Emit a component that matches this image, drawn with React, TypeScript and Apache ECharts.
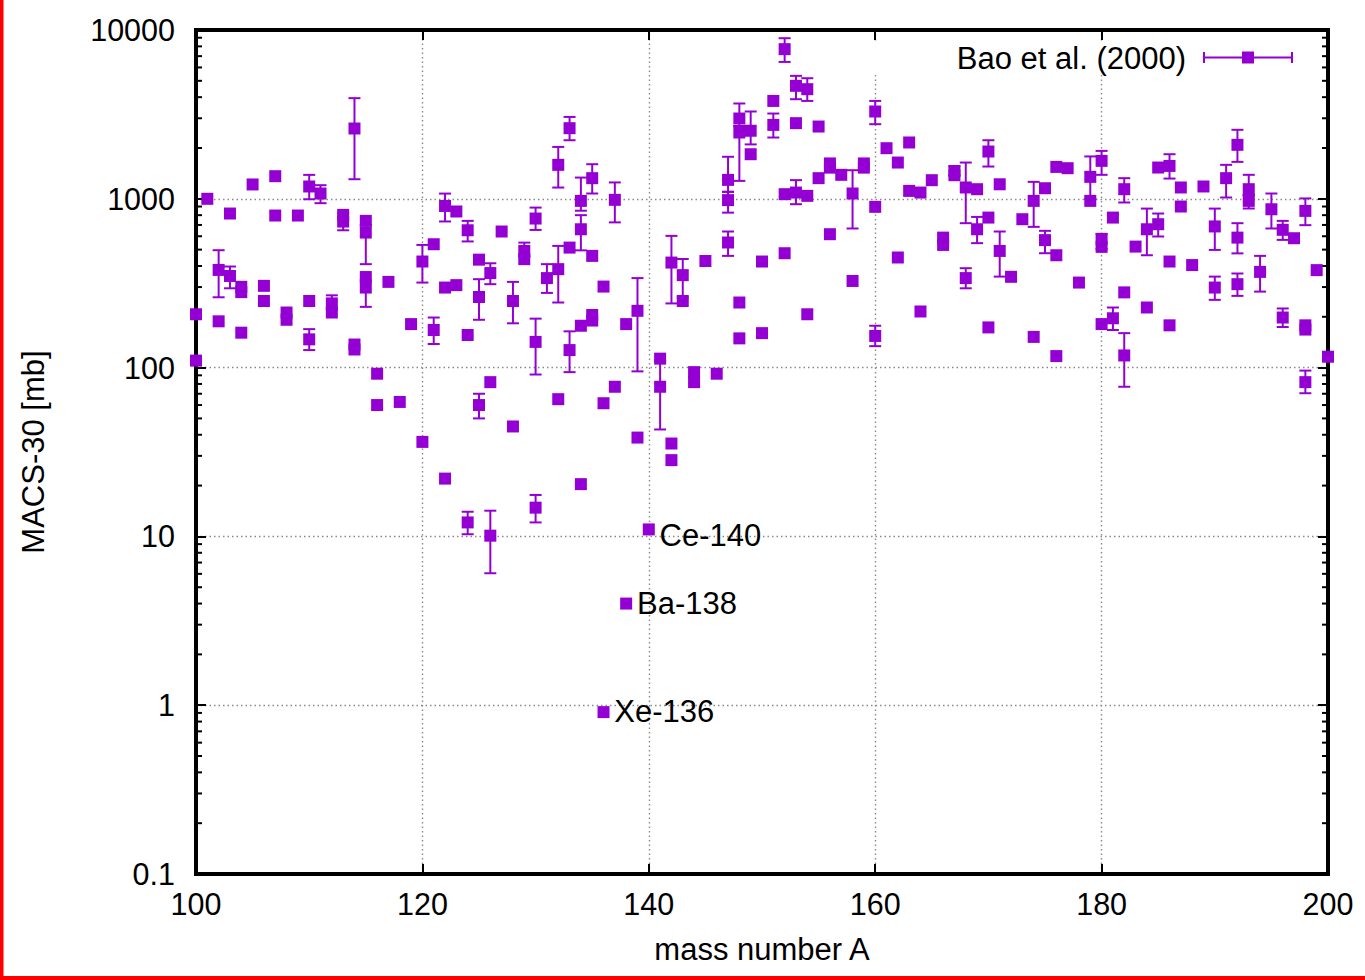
import React, { useEffect, useRef } from "react";
import * as echarts from "echarts";

// ---- data ----
// [mass number A, MACS-30 in mb]
const points: [number, number][] = [
  [100, 207], [100, 110],
  [101, 1000],
  [102, 379], [102, 188],
  [103, 818], [103, 349],
  [104, 301], [104, 280], [104, 161],
  [105, 1216],
  [106, 305], [106, 248],
  [107, 1361], [107, 796],
  [108, 212], [108, 192],
  [109, 796],
  [110, 1183], [110, 248], [110, 147],
  [111, 1075],
  [112, 240], [112, 212],
  [113, 803], [113, 733],
  [114, 2609], [114, 137], [114, 128],
  [115, 740], [115, 631], [115, 344], [115, 298],
  [116, 92], [116, 60],
  [117, 322],
  [118, 62.6],
  [119, 181],
  [120, 425], [120, 36.3],
  [121, 538], [121, 167],
  [122, 907], [122, 298], [122, 22],
  [123, 841], [123, 308],
  [124, 651], [124, 156], [124, 12.1],
  [125, 436], [125, 262], [125, 60],
  [126, 363], [126, 82], [126, 10.1],
  [127, 640],
  [128, 248], [128, 44.8],
  [129, 491], [129, 439],
  [130, 764], [130, 142], [130, 14.8],
  [131, 339],
  [132, 1589], [132, 383], [132, 65],
  [133, 2620], [133, 514], [133, 127],
  [134, 972], [134, 660], [134, 177], [134, 20.4],
  [135, 1325], [135, 459], [135, 205], [135, 190],
  [136, 302], [136, 61.5], [136, 0.91],
  [137, 986], [137, 77],
  [138, 181], [138, 4.0],
  [139, 217], [139, 38.5],
  [140, 11],
  [141, 113], [141, 77],
  [142, 419], [142, 35.5], [142, 28.3],
  [143, 353], [143, 248],
  [144, 94], [144, 82],
  [145, 428],
  [146, 92],
  [147, 1294], [147, 982], [147, 551],
  [148, 2990], [148, 2470], [148, 243], [148, 149],
  [149, 2530], [149, 1837],
  [150, 425], [150, 160],
  [151, 3800], [151, 2740],
  [152, 7700], [152, 1065], [152, 476],
  [153, 4670], [153, 2806], [153, 1089],
  [154, 4460], [154, 1041], [154, 207],
  [155, 2680], [155, 1325],
  [156, 1620], [156, 1530], [156, 617],
  [157, 1387],
  [158, 1075], [158, 326],
  [159, 1620], [159, 1530],
  [160, 3290], [160, 896], [160, 154],
  [161, 1994],
  [162, 1640], [162, 449],
  [163, 2156], [163, 1114],
  [164, 1089], [164, 215],
  [165, 1289],
  [166, 589], [166, 533],
  [167, 1460], [167, 1380],
  [168, 1167], [168, 339],
  [169, 1140], [169, 660],
  [170, 1906], [170, 774], [170, 173],
  [171, 1219], [171, 491],
  [172, 345],
  [173, 757],
  [174, 972], [174, 152],
  [175, 1155], [175, 569],
  [176, 1545], [176, 463], [176, 117],
  [177, 1518],
  [178, 319],
  [179, 1349], [179, 972],
  [180, 1678], [180, 577], [180, 519], [180, 181],
  [181, 774], [181, 196],
  [182, 1140], [182, 279], [182, 118],
  [183, 521],
  [184, 660], [184, 227],
  [185, 1532], [185, 707],
  [186, 1566], [186, 425], [186, 178],
  [187, 1167], [187, 900],
  [188, 405],
  [189, 1183],
  [190, 686], [190, 298],
  [191, 1325],
  [192, 2088], [192, 589], [192, 312],
  [193, 1140], [193, 972],
  [194, 369],
  [195, 867],
  [196, 655], [196, 198],
  [197, 584],
  [198, 848], [198, 178], [198, 168], [198, 82],
  [199, 378],
  [200, 116],
];

// [mass number A, lower end, upper end] of visible error bars
const errorBars: [number, number, number][] = [
  [102, 261, 496], [103, 295, 397], [110, 994, 1386], [110, 127, 169],
  [111, 942, 1204], [112, 220, 268], [113, 651, 820], [114, 1306, 3947],
  [115, 410, 700], [115, 229, 330], [120, 319, 533], [121, 138, 198],
  [122, 734, 1074], [124, 559, 740], [124, 10.3, 14], [125, 192, 334],
  [125, 50, 70], [126, 312, 415], [126, 6.05, 14.2], [128, 183, 322],
  [129, 455, 550], [130, 654, 887], [130, 91, 195], [130, 12.1, 17.6],
  [131, 277, 410], [132, 243, 526], [132, 1166, 2029], [133, 2223, 3055],
  [133, 94, 164], [134, 850, 1336], [134, 495, 800], [135, 1075, 1603],
  [137, 725, 1250], [139, 95, 339], [141, 43, 110], [142, 240, 603],
  [143, 260, 440], [147, 1100, 1774], [147, 828, 1100], [147, 459, 640],
  [148, 2700, 3670], [148, 1277, 2700], [149, 2100, 3290], [151, 2307, 3200],
  [152, 6470, 8940], [153, 3890, 5350], [153, 929, 1290], [154, 3800, 5180],
  [158, 667, 1477], [160, 2767, 3800], [160, 134, 177], [167, 1380, 1560],
  [168, 717, 1640], [168, 295, 388], [169, 546, 781], [170, 1553, 2223],
  [171, 346, 640], [174, 682, 1260], [175, 476, 646], [179, 1000, 1782],
  [180, 1387, 1922], [180, 505, 620], [181, 167, 227], [182, 951, 1325],
  [182, 77, 160], [184, 463, 875], [185, 598, 818], [186, 1318, 1837],
  [190, 498, 875], [190, 252, 346], [191, 1018, 1589], [192, 1655, 2563],
  [192, 475, 717], [192, 266, 361], [193, 1050, 1387], [193, 876, 1050],
  [194, 282, 459], [195, 667, 1075], [196, 571, 740], [196, 174, 224],
  [198, 698, 1005], [198, 70.5, 96],
];

// annotations
const labelNames = ["Ce-140", "Ba-138", "Xe-136"];
const labelA = [141, 139, 137];
const labelMacs = [10, 4.0, 0.91];

// axes
const xMin = 100;
const xMax = 200;
const xInterval = 20;
const yTicks = [0.1, 1, 10, 100, 1000, 10000];
const yTickLabels = ["0.1", "1", "10", "100", "1000", "10000"];
const yMinorMultipliers = [2, 3, 4, 5, 6, 7, 8, 9];
const legendName = "Bao et al. (2000)";

const PURPLE = "#9400d3";
const FONT = "Liberation Sans, Arial, sans-serif";
const TICK_FONT = 30.5;
const TEXT_FONT = 31;

export default function App() {
  const ref = useRef<HTMLDivElement>(null);

  useEffect(() => {
    document.body.style.margin = "0";
    if (!ref.current) return;
    const chart = echarts.init(ref.current, undefined, { renderer: "svg" });

    const minorTickData: [number, number][] = [];
    yTicks.slice(0, -1).forEach((d) =>
      yMinorMultipliers.forEach((m) => minorTickData.push([xMin, m * d]))
    );

    const labelData = labelNames.map((n, i) => [labelA[i], labelMacs[i], n]);

    const yLabelFmt = (v: number) => {
      const i = yTicks.findIndex(
        (t) => Math.abs(Math.log10(t) - Math.log10(v)) < 1e-6
      );
      return i >= 0 ? yTickLabels[i] : "";
    };

    const gridLine = {
      show: true,
      lineStyle: { color: "#8a8a8a", width: 1.4, type: [1.5, 3] as any },
    };

    const option: any = {
      animation: false,
      backgroundColor: "#ffffff",
      grid: { left: 196, right: 37, top: 30, bottom: 106, containLabel: false },
      xAxis: [
        {
          type: "value",
          position: "bottom",
          min: xMin,
          max: xMax,
          interval: xInterval,
          axisLine: { show: false, onZero: false },
          axisTick: { show: true, inside: true, length: 10, lineStyle: { color: "#000", width: 2 } },
          axisLabel: { show: true, margin: 14, fontSize: TICK_FONT, color: "#000", fontFamily: FONT },
          splitLine: gridLine,
          name: "mass number A",
          nameLocation: "middle",
          nameGap: 60,
          nameTextStyle: { fontSize: TEXT_FONT, color: "#000", fontFamily: FONT },
        },
        {
          type: "value",
          position: "top",
          min: xMin,
          max: xMax,
          interval: xInterval,
          axisLine: { show: false, onZero: false },
          axisTick: { show: true, inside: true, length: 10, lineStyle: { color: "#000", width: 2 } },
          axisLabel: { show: false },
          splitLine: { show: false },
        },
      ],
      yAxis: [
        {
          type: "log",
          logBase: 10,
          position: "left",
          min: 0.1,
          max: 10000,
          splitNumber: 5,
          axisLine: { show: false, onZero: false },
          axisTick: { show: true, inside: true, length: 10, lineStyle: { color: "#000", width: 2 } },
          axisLabel: {
            show: true,
            margin: 21,
            fontSize: TICK_FONT,
            color: "#000",
            fontFamily: FONT,
            formatter: yLabelFmt,
          },
          splitLine: gridLine,
          minorTick: { show: false },
          name: "MACS-30 [mb]",
          nameLocation: "middle",
          nameGap: 147,
          nameRotate: 90,
          nameTextStyle: { fontSize: TEXT_FONT, color: "#000", fontFamily: FONT },
        },
        {
          type: "log",
          logBase: 10,
          position: "right",
          min: 0.1,
          max: 10000,
          splitNumber: 5,
          axisLine: { show: false, onZero: false },
          axisTick: { show: true, inside: true, length: 10, lineStyle: { color: "#000", width: 2 } },
          axisLabel: { show: false },
          splitLine: { show: false },
        },
      ],
      graphic: [
        // plot frame
        {
          type: "rect",
          z: 1,
          silent: true,
          shape: { x: 196, y: 30, width: 1132, height: 844 },
          style: { fill: "none", stroke: "#000", lineWidth: 4 },
        },
        // key background
        {
          type: "rect",
          z: 50,
          silent: true,
          shape: { x: 830, y: 42, width: 482, height: 32 },
          style: { fill: "#ffffff" },
        },
        {
          type: "text",
          z: 51,
          x: 1186,
          y: 58,
          style: {
            text: legendName,
            fontSize: TEXT_FONT,
            fontFamily: FONT,
            fill: "#000",
            align: "right",
            verticalAlign: "middle",
          },
        },
        {
          type: "line",
          z: 51,
          shape: { x1: 1204, y1: 57.5, x2: 1292, y2: 57.5 },
          style: { stroke: PURPLE, lineWidth: 2 },
        },
        {
          type: "line",
          z: 51,
          shape: { x1: 1204, y1: 52, x2: 1204, y2: 63 },
          style: { stroke: PURPLE, lineWidth: 2 },
        },
        {
          type: "line",
          z: 51,
          shape: { x1: 1292, y1: 52, x2: 1292, y2: 63 },
          style: { stroke: PURPLE, lineWidth: 2 },
        },
        {
          type: "rect",
          z: 51,
          shape: { x: 1242, y: 51.5, width: 12, height: 12 },
          style: { fill: PURPLE },
        },
        // page border (left and bottom)
        {
          type: "rect",
          z: 60,
          silent: true,
          shape: { x: 0, y: 0, width: 3.5, height: 980 },
          style: { fill: "#ff0000" },
        },
        {
          type: "rect",
          z: 60,
          silent: true,
          shape: { x: 0, y: 976, width: 1365, height: 4 },
          style: { fill: "#ff0000" },
        },
      ],
      series: [
        {
          name: "minorTicks",
          type: "custom",
          silent: true,
          clip: false,
          z: 1,
          xAxisIndex: 0,
          yAxisIndex: 0,
          encode: { x: 0, y: 1 },
          data: minorTickData,
          renderItem: (params: any, api: any) => {
            const v = api.value(1);
            const l = api.coord([xMin, v]);
            const r = api.coord([xMax, v]);
            const st = { stroke: "#000", lineWidth: 2 };
            return {
              type: "group",
              children: [
                { type: "line", shape: { x1: l[0], y1: l[1], x2: l[0] + 6, y2: l[1] }, style: st },
                { type: "line", shape: { x1: r[0] - 6, y1: r[1], x2: r[0], y2: r[1] }, style: st },
              ],
            };
          },
        },
        {
          name: legendName + " errors",
          type: "custom",
          silent: true,
          clip: false,
          z: 2,
          xAxisIndex: 0,
          yAxisIndex: 0,
          encode: { x: 0, y: [1, 2] },
          data: errorBars,
          renderItem: (params: any, api: any) => {
            const a = api.value(0);
            const lo = api.coord([a, api.value(1)]);
            const hi = api.coord([a, api.value(2)]);
            const w = 6;
            const st = { stroke: PURPLE, lineWidth: 2 };
            return {
              type: "group",
              children: [
                { type: "line", shape: { x1: lo[0], y1: lo[1], x2: hi[0], y2: hi[1] }, style: st },
                { type: "line", shape: { x1: lo[0] - w, y1: lo[1], x2: lo[0] + w, y2: lo[1] }, style: st },
                { type: "line", shape: { x1: hi[0] - w, y1: hi[1], x2: hi[0] + w, y2: hi[1] }, style: st },
              ],
            };
          },
        },
        {
          name: legendName,
          type: "scatter",
          clip: false,
          z: 3,
          xAxisIndex: 0,
          yAxisIndex: 0,
          symbol: "rect",
          symbolSize: 12,
          itemStyle: { color: PURPLE, opacity: 1 },
          data: points,
        },
        {
          name: "labels",
          type: "scatter",
          clip: false,
          silent: true,
          z: 4,
          xAxisIndex: 0,
          yAxisIndex: 0,
          symbol: "rect",
          symbolSize: 1,
          itemStyle: { color: "rgba(255,255,255,0)" },
          label: {
            show: true,
            position: [0, 0],
            align: "left",
            verticalAlign: "middle",
            fontSize: TEXT_FONT,
            fontFamily: FONT,
            color: "#000",
            opacity: 1,
            textBorderWidth: 0,
            textBorderColor: "transparent",
            textShadowBlur: 0,
            formatter: (p: any) => p.data[2],
          },
          data: labelData,
        },
      ],
    };

    chart.setOption(option);
    return () => chart.dispose();
  }, []);

  return <div ref={ref} style={{ width: 1365, height: 980, background: "#fff" }} />;
}
